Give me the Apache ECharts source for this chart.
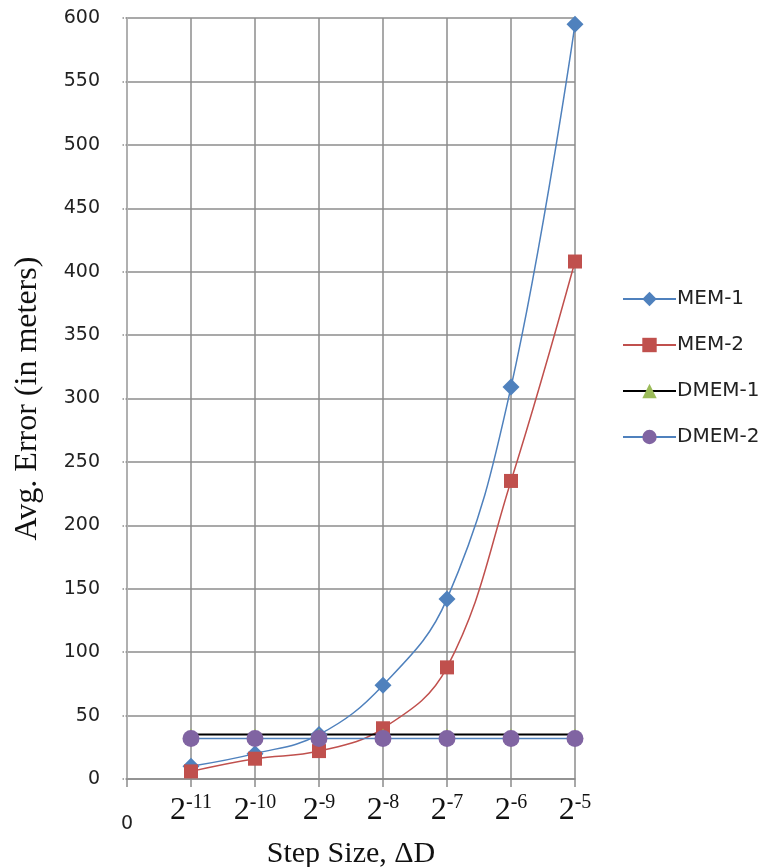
<!DOCTYPE html>
<html><head><meta charset="utf-8">
<script src="https://cdn.jsdelivr.net/npm/echarts@6/dist/echarts.min.js"></script>
<style>html,body{margin:0;padding:0;background:#fff}#c{width:767px;height:867px}</style>
</head><body><div id="c"></div>
<script>
var xPositions = [1, 2, 3, 4, 5, 6, 7];
var xTickLabels = ['0', '-11', '-10', '-9', '-8', '-7', '-6', '-5'];
var mem1 = [10, 20, 35, 74, 142, 309, 595];
var mem2 = [6, 16, 22, 40, 88, 235, 408];
var dmem1 = [35, 35, 35, 35, 35, 35, 35];
var dmem2 = [32, 32, 32, 32, 32, 32, 32];
var seriesNames = ['MEM-1', 'MEM-2', 'DMEM-1', 'DMEM-2'];

function pairs(v){ return v.map(function(y,i){ return [xPositions[i], y]; }); }

var chart = echarts.init(document.getElementById('c'));
var grey = '#8c8c8c';
chart.setOption({
  animation: false,
  backgroundColor: '#fff',
  grid: { left: 127, top: 18, right: 192, bottom: 88, containLabel: false, outerBoundsMode: 'none' },
  legend: {
    orient: 'vertical', left: 617, top: 284, itemWidth: 53, itemHeight: 18, itemGap: 26,
    textStyle: { fontFamily: 'DejaVu Sans', fontSize: 20, color: '#222', padding: [0,0,0,-4] },
    data: seriesNames
  },
  xAxis: {
    type: 'value', min: 0, max: 7, interval: 1,
    name: 'Step Size, ΔD', nameLocation: 'middle', nameGap: 48,
    nameTextStyle: { fontFamily: 'Liberation Serif', fontSize: 30, color: '#111' },
    axisLine: { onZero: false, lineStyle: { color: grey, width: 1.5 } },
    axisTick: { show: true, length: 8, lineStyle: { color: grey, width: 1.5 } },
    splitLine: { show: true, lineStyle: { color: grey, width: 1.5 } },
    axisLabel: {
      margin: 14,
      formatter: function(v){
        var i = Math.round(v);
        if (i === 0) return '{z|0}';
        return '{b|2}{s|' + xTickLabels[i] + '}';
      },
      rich: {
        z: { fontFamily: 'DejaVu Sans', fontSize: 19, color: '#222', padding: [22,0,0,0] },
        b: { fontFamily: 'Liberation Serif', fontSize: 32, color: '#111', lineHeight: 34, verticalAlign: 'bottom' },
        s: { fontFamily: 'Liberation Serif', fontSize: 20, color: '#111', lineHeight: 34, verticalAlign: 'top' }
      }
    }
  },
  yAxis: {
    type: 'value', min: 0, max: 600, interval: 50,
    name: 'Avg. Error (in meters)', nameLocation: 'middle', nameGap: 83,
    nameTextStyle: { fontFamily: 'Liberation Serif', fontSize: 32, color: '#111' },
    axisLine: { show: true, lineStyle: { color: '#b0b0b0', width: 2 } },
    axisTick: { show: true, length: 5, lineStyle: { color: grey, type: 'dotted', width: 1.5 } },
    splitLine: { show: true, lineStyle: { color: grey, width: 1.5 } },
    axisLabel: { margin: 27, fontFamily: 'DejaVu Sans', fontSize: 19, color: '#222' }
  },
  series: [
    { name: 'MEM-1', type: 'line', smooth: 0.4, data: pairs(mem1),
      symbol: 'diamond', symbolSize: 17,
      itemStyle: { color: '#4F81BD' }, lineStyle: { color: '#4F81BD', width: 1.5 } },
    { name: 'MEM-2', type: 'line', smooth: 0.4, data: pairs(mem2),
      symbol: 'rect', symbolSize: 14,
      itemStyle: { color: '#C0504D' }, lineStyle: { color: '#C0504D', width: 1.5 } },
    { name: 'DMEM-1', type: 'line', data: pairs(dmem1),
      symbol: 'triangle', symbolSize: 12,
      itemStyle: { color: '#9BBB59' }, lineStyle: { color: '#000', width: 2 } },
    { name: 'DMEM-2', type: 'line', data: pairs(dmem2),
      symbol: 'circle', symbolSize: 17,
      itemStyle: { color: '#8064A2' }, lineStyle: { color: '#4F81BD', width: 1.5 } }
  ]
});
</script></body></html>
